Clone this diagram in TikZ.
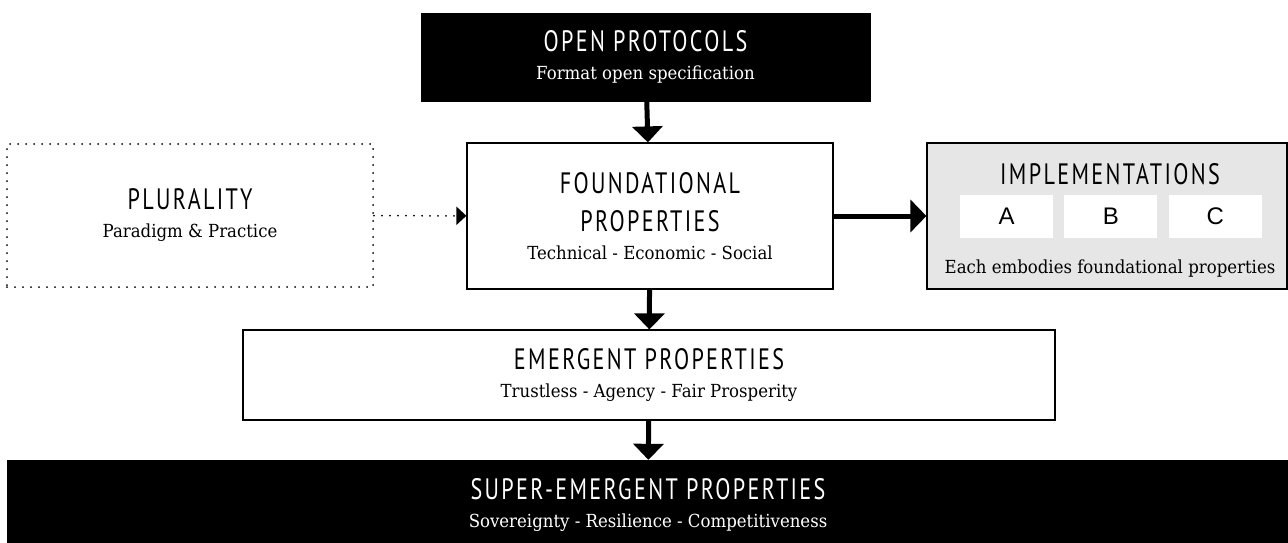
\documentclass[tikz,border=0pt]{standalone}
\usepackage{fontspec}
\usetikzlibrary{arrows.meta,positioning}
\newfontfamily\headfont[FakeStretch=0.75,LetterSpace=8]{PT Sans}
\newfontfamily\slabfont[FakeStretch=0.92]{DejaVu Serif}
\newfontfamily\letterfont{Liberation Sans}
\definecolor{implgray}{HTML}{E6E6E6}
\newcommand{\hd}[1]{{\headfont\fontsize{29.5}{29.5}\selectfont #1}}
\newcommand{\subline}[1]{{\slabfont\fontsize{18}{18}\selectfont #1}}

\begin{document}
\begin{tikzpicture}[x=1pt,y=-1pt]
    \tikzstyle{every node}=[inner sep=0pt, align=center, font=\fontsize{18}{28}\selectfont]
    \tikzstyle{whitebox}=[draw, line width=1.2pt, fill=white]
    \tikzstyle{blackbox}=[draw, fill=black, text=white]
    \tikzstyle{dotbox}=[draw, line width=2pt, dash pattern=on 0pt off 8pt, line cap=round]
    \tikzstyle{letterbox}=[fill=white, minimum width=93pt, minimum height=43pt, font=\letterfont\fontsize{24}{24}\selectfont]
    \tikzstyle{bigarrow}=[line width=5pt, -{Triangle[length=16pt,width=30pt]}]

    \useasboundingbox (0,0) rectangle (1288,543);

    \node[blackbox, minimum width=449pt, minimum height=88pt] (open) at (645.5,57)
        {\hd{OPEN PROTOCOLS}\\\subline{Format open specification}};
    \node[whitebox, minimum width=366pt, minimum height=146pt] (found) at (650,216)
        {\hd{FOUNDATIONAL}\\[10pt]\hd{PROPERTIES}\\\subline{Technical - Economic - Social}};
    \node[dotbox, minimum width=366pt, minimum height=143pt] (plural) at (190,215.5)
        {\hd{PLURALITY}\\\subline{Paradigm \& Practice}};
    \node[whitebox, fill=implgray, minimum width=360pt, minimum height=146pt] (impl) at (1107,216) {};
    \node[whitebox, minimum width=812pt, minimum height=90pt] (emerg) at (649,375)
        {\hd{EMERGENT PROPERTIES}\\\subline{Trustless - Agency - Fair Prosperity}};
    \node[blackbox, minimum width=1282pt, minimum height=90pt] (super) at (648,505)
        {\hd{SUPER-EMERGENT PROPERTIES}\\\subline{Sovereignty - Resilience - Competitiveness}};

    % inside the implementations box
    \node[anchor=base] (impltitle) at (1110,184) {\hd{IMPLEMENTATIONS}};
    \node[letterbox] (a) at (1006.5,216.5) {A};
    \node[letterbox, right=11pt of a] (b) {B};
    \node[letterbox, right=11pt of b] (c) {C};
    \node[anchor=base] (impltext) at (1110,273) {\subline{Each embodies foundational properties}};

    \draw [bigarrow] (open) to (found);
    \draw [bigarrow] (found) to (emerg);
    \draw [bigarrow] (emerg) to (super);
    \draw [line width=5pt, -{Triangle[length=16pt,width=32pt]}] (found) to (impl);
    \draw [line width=2pt, dash pattern=on 0pt off 8pt, line cap=round,
        -{Triangle[length=10pt,width=18pt]}] (plural) to (found);
\end{tikzpicture}
\end{document}
